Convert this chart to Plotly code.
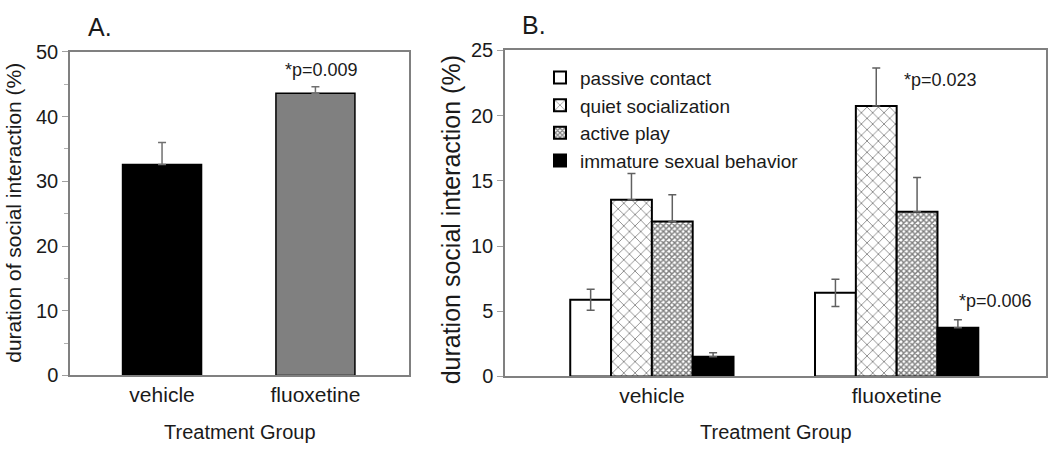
import plotly.graph_objects as go

# ---- data ----
groups = ["vehicle", "fluoxetine"]

# Panel A
a_values = [32.6, 43.6]
a_err_plus = [3.4, 1.0]
a_colors = ["#000000", "#808080"]

# Panel B
b_series = ["passive contact", "quiet socialization", "active play", "immature sexual behavior"]
b_passive = [5.88, 6.41]
b_quiet = [13.56, 20.75]
b_active = [11.88, 12.63]
b_immature = [1.51, 3.74]
b_passive_err = [0.8, 1.05]
b_quiet_err = [2.0, 2.9]
b_active_err = [2.06, 2.63]
b_immature_err = [0.3, 0.6]

a_ticks = [0, 10, 20, 30, 40, 50]
b_ticks = [0, 5, 10, 15, 20, 25]

FONT = "Liberation Sans, Arial, sans-serif"
W, H = 1050, 455

def px(x):
    return x / W

def py(y):
    return (H - y) / H

fig = go.Figure()

# Panel A bars
fig.add_trace(go.Bar(
    x=groups, y=a_values, width=0.515,
    marker=dict(color=a_colors, line=dict(color="#000000", width=1.5)),
    error_y=dict(type="data", symmetric=False, array=a_err_plus, arrayminus=[0, 0],
                 color="#707070", thickness=1.5, width=4),
    xaxis="x", yaxis="y", showlegend=False,
))

# Panel B bars
b_vals = [b_passive, b_quiet, b_active, b_immature]
b_errs = [b_passive_err, b_quiet_err, b_active_err, b_immature_err]
b_style = [
    dict(color="#ffffff", line=dict(color="#000000", width=2)),
    dict(color="#ffffff", line=dict(color="#000000", width=2),
         pattern=dict(shape="x", size=8, solidity=0.22, fgcolor="#1a1a1a", bgcolor="#ffffff", fillmode="overlay")),
    dict(color="#ffffff", line=dict(color="#000000", width=2),
         pattern=dict(shape="x", size=4, solidity=0.6, fgcolor="#000000", bgcolor="#ffffff", fillmode="overlay")),
    dict(color="#000000", line=dict(color="#000000", width=2)),
]
for i, name in enumerate(b_series):
    minus = b_errs[i] if i == 0 else [0, 0]
    fig.add_trace(go.Bar(
        x=groups, y=b_vals[i], name=name,
        marker=b_style[i],
        error_y=dict(type="data", symmetric=False, array=b_errs[i], arrayminus=minus,
                     color="#606060", thickness=1.5, width=4),
        xaxis="x2", yaxis="y2",
    ))

axis_common = dict(showline=True, mirror=True, linecolor="#808080", linewidth=1.5,
                   showgrid=False, zeroline=False)

fig.update_layout(
    width=W, height=H,
    margin=dict(l=0, r=0, t=0, b=0),
    paper_bgcolor="white", plot_bgcolor="white",
    font=dict(family=FONT, color="#1a1a1a"),
    barmode="group", bargap=0.333, bargroupgap=0,
    xaxis=dict(domain=[px(70), px(409)], range=[-0.6, 1.61], ticks="",
               tickfont=dict(size=21, family=FONT, color="#1a1a1a"), anchor="y", **axis_common),
    yaxis=dict(domain=[py(383), py(43)], range=[0, 50], tickvals=a_ticks, ticks="outside",
               ticklen=6, tickcolor="#a0a0a0", tickwidth=1,
               minor=dict(dtick=5, ticks="outside", ticklen=4, tickcolor="#b0b0b0", tickwidth=1),
               tickfont=dict(size=20, family=FONT, color="#1a1a1a"), anchor="x", **axis_common),
    xaxis2=dict(domain=[px(505), px(1046)], range=[-0.6, 1.61], ticks="",
                tickfont=dict(size=21, family=FONT, color="#1a1a1a"), anchor="y2", **axis_common),
    yaxis2=dict(domain=[py(384), py(41.5)], range=[0, 25], tickvals=b_ticks, ticks="outside",
                ticklen=6, tickcolor="#a0a0a0", tickwidth=1,
                tickfont=dict(size=20, family=FONT, color="#1a1a1a"), anchor="x2", **axis_common),
    legend=dict(x=px(540), y=py(50), xanchor="left", yanchor="top",
                font=dict(size=19, family=FONT, color="#1a1a1a"),
                bgcolor="rgba(0,0,0,0)", tracegroupgap=0, itemwidth=30),
)

def ann(text, x, y, size, angle=0, xanchor="center"):
    fig.add_annotation(text=text, x=px(x), y=py(y), xref="paper", yref="paper",
                       showarrow=False, textangle=angle, xanchor=xanchor, yanchor="middle",
                       font=dict(size=size, family=FONT, color="#1a1a1a"))

ann("A.", 100, 17, 25)
ann("B.", 534, 15, 25)
ann("duration of social interaction (%)", 14, 212, 21, angle=-90)
ann("duration social interaction (%)", 451, 220, 25, angle=-90)
ann("Treatment Group", 240, 442, 20)
ann("Treatment Group", 776, 442, 20)
ann("*p=0.009", 321.5, 62, 18)
ann("*p=0.023", 940, 73, 18)
ann("*p=0.006", 995, 305, 18)

fig.write_html("out.html", config={"displayModeBar": False},
               post_script="document.body.style.margin='0';document.body.style.overflow='hidden';")
